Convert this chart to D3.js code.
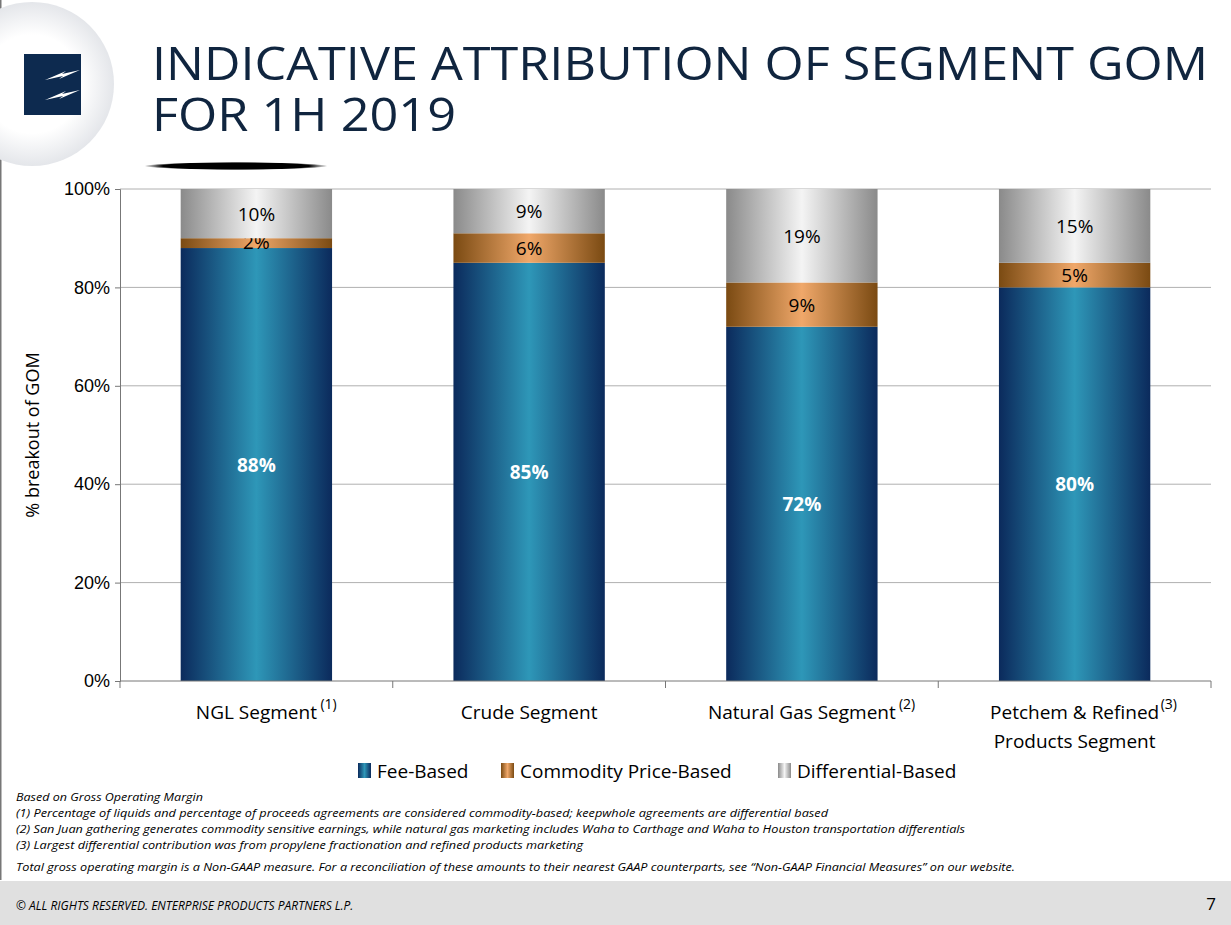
<!DOCTYPE html>
<html><head><meta charset="utf-8">
<script src="https://cdn.jsdelivr.net/npm/d3@7"></script>
<style>body{margin:0;background:#fff;}svg{display:block;font-family:"Open Sans",sans-serif;}</style>
</head><body>
<svg id="chart" width="1231" height="925"></svg>
<script>
// data
const categories = ["NGL Segment", "Crude Segment", "Natural Gas Segment", "Petchem & Refined|Products Segment"];
const notes = ["(1)", "", "(2)", "(3)"];
const feeBased = [88, 85, 72, 80];
const commodityBased = [2, 6, 9, 5];
const differentialBased = [10, 9, 19, 15];
const seriesNames = ["Fee-Based", "Commodity Price-Based", "Differential-Based"];
const yTicks = [0, 20, 40, 60, 80, 100];
const footnotes = [
  "Based on Gross Operating Margin",
  "(1)  Percentage of liquids and percentage of proceeds agreements are considered commodity-based; keepwhole agreements are differential based",
  "(2)  San Juan gathering generates commodity sensitive earnings, while natural gas marketing includes Waha to Carthage and Waha to Houston transportation differentials",
  "(3)  Largest differential contribution was from propylene fractionation and refined products marketing"
];
const footnoteWidths = [187, 812, 949, 567];

const svg = d3.select("#chart");
const defs = svg.append("defs");

// horizontal gradients like the office-style bars
function gradient(id, edge, mid) {
  const g = defs.append("linearGradient").attr("id", id).attr("x1", 0).attr("x2", 1).attr("y1", 0).attr("y2", 0);
  g.append("stop").attr("offset", "0%").attr("stop-color", edge);
  g.append("stop").attr("offset", "50%").attr("stop-color", mid);
  g.append("stop").attr("offset", "100%").attr("stop-color", edge);
}
gradient("gFee", "#0b2a5c", "#2e97b8");
gradient("gCom", "#7a4a12", "#f0a86a");
gradient("gDif", "#8a8a8a", "#f4f4f4");
const rg = defs.append("radialGradient").attr("id", "gCircle");
rg.append("stop").attr("offset", "60%").attr("stop-color", "#ffffff");
rg.append("stop").attr("offset", "100%").attr("stop-color", "#e4e6ea");
const sh = defs.append("radialGradient").attr("id", "gShadow");
sh.append("stop").attr("offset", "0%").attr("stop-color", "#000");
sh.append("stop").attr("offset", "80%").attr("stop-color", "#000");
sh.append("stop").attr("offset", "100%").attr("stop-color", "#fff");

// slide chrome
svg.append("rect").attr("x", 0).attr("y", 0).attr("width", 1.5).attr("height", 880).attr("fill", "#777");
svg.append("circle").attr("cx", 32).attr("cy", 84).attr("r", 82).attr("fill", "url(#gCircle)");
svg.append("rect").attr("x", 24).attr("y", 54).attr("width", 57).attr("height", 61).attr("fill", "#0d2a4f");
[[45, 80, 80, 70], [45, 100, 80, 90]].forEach(([x1, y1, x2, y2]) => {
  svg.append("path")
    .attr("d", `M${x1},${y1} L${x1 + 18},${y1 - 4} L${x1 + 14},${y1 - 1} L${x2},${y2} L${x2 - 18},${y2 + 4} L${x2 - 14},${y2 + 1} Z`)
    .attr("fill", "#fff");
});
svg.append("ellipse").attr("cx", 236).attr("cy", 166).attr("rx", 92).attr("ry", 4).attr("fill", "url(#gShadow)");

svg.append("text").attr("x", 152).attr("y", 80).attr("font-size", 46).attr("fill", "#10253f")
  .attr("textLength", 1056).attr("lengthAdjust", "spacingAndGlyphs").text("INDICATIVE ATTRIBUTION OF SEGMENT GOM");
svg.append("text").attr("x", 152).attr("y", 131).attr("font-size", 46).attr("fill", "#10253f")
  .attr("textLength", 304).attr("lengthAdjust", "spacingAndGlyphs").text("FOR 1H 2019");

// chart
const x = d3.scaleBand().domain(d3.range(categories.length)).range([120, 1211]).paddingInner(0.445).paddingOuter(0.2225);
const y = d3.scaleLinear().domain([0, 100]).range([681, 189]);

svg.append("g").selectAll("line").data(yTicks.filter(d => d > 0)).join("line")
  .attr("x1", 120).attr("x2", 1211).attr("y1", d => y(d)).attr("y2", d => y(d))
  .attr("stroke", "#b0b0b0").attr("stroke-width", 1);

const yAxis = svg.append("g").attr("transform", "translate(120,0)")
  .call(d3.axisLeft(y).tickValues(yTicks).tickFormat(d => d + "%").tickSize(5));
yAxis.select(".domain").attr("stroke", "#777");
yAxis.selectAll(".tick line").attr("stroke", "#777");
yAxis.selectAll("text").attr("font-size", 18).attr("fill", "#000").attr("dx", -2);

svg.append("text").attr("transform", "translate(39,435) rotate(-90)").attr("text-anchor", "middle")
  .attr("font-size", 18).text("% breakout of GOM");

const stackData = categories.map((c, i) => ({ i, fee: feeBased[i], com: commodityBased[i], dif: differentialBased[i] }));
const stacks = d3.stack().keys(["fee", "com", "dif"])(stackData);
const fills = ["url(#gFee)", "url(#gCom)", "url(#gDif)"];
stacks.forEach((s, k) => {
  svg.append("g").selectAll("rect").data(s).join("rect")
    .attr("x", d => x(d.data.i)).attr("width", x.bandwidth())
    .attr("y", d => y(d[1])).attr("height", d => y(d[0]) - y(d[1]))
    .attr("fill", fills[k]);
  svg.append("g").selectAll("text").data(s).join("text")
    .attr("x", d => x(d.data.i) + x.bandwidth() / 2)
    .attr("y", d => k === 1 && d.data.com < 3 ? y(d[1]) + 11 : (y(d[0]) + y(d[1])) / 2 + 7)
    .attr("text-anchor", "middle")
    .attr("font-size", 19)
    .attr("font-weight", k === 0 ? "bold" : "normal")
    .attr("fill", k === 0 ? "#fff" : "#000")
    .text(d => (d[1] - d[0]) + "%");
});

// x axis
svg.append("line").attr("x1", 120).attr("x2", 1211).attr("y1", 681).attr("y2", 681).attr("stroke", "#777");
d3.range(categories.length + 1).forEach(i => {
  const xx = 120 + i * (1091 / categories.length);
  svg.append("line").attr("x1", xx).attr("x2", xx).attr("y1", 681).attr("y2", 688).attr("stroke", "#777");
});
categories.forEach((c, i) => {
  const cx = x(i) + x.bandwidth() / 2;
  const lines = c.split("|");
  lines.forEach((l, j) => {
    svg.append("text").attr("x", cx).attr("y", 719 + j * 29).attr("text-anchor", "middle")
      .attr("font-size", 19).text(l);
  });
  if (notes[i]) {
    const w = { 0: 64, 2: 97, 3: 86 }[i];
    svg.append("text").attr("x", cx + w).attr("y", 709).attr("font-size", 14).text(notes[i]);
  }
});

// legend
const legendX = [358, 501, 778];
seriesNames.forEach((n, k) => {
  svg.append("rect").attr("x", legendX[k]).attr("y", 763).attr("width", 13).attr("height", 15).attr("fill", fills[k]);
  svg.append("text").attr("x", legendX[k] + 19).attr("y", 778).attr("font-size", 19).text(n);
});

// footnotes
footnotes.forEach((t, i) => {
  svg.append("text").attr("x", 16).attr("y", 801 + i * 16).attr("font-size", 11).attr("font-style", "italic")
    .attr("textLength", footnoteWidths[i]).attr("lengthAdjust", "spacingAndGlyphs").text(t);
});
svg.append("text").attr("x", 16).attr("y", 871).attr("font-size", 11).attr("font-style", "italic")
  .attr("textLength", 999).attr("lengthAdjust", "spacingAndGlyphs")
  .text("Total gross operating margin is a Non-GAAP measure. For a reconciliation of these amounts to their nearest GAAP counterparts, see \u201cNon-GAAP Financial Measures\u201d on our website.");

svg.append("rect").attr("x", 0).attr("y", 881).attr("width", 1231).attr("height", 44).attr("fill", "#e0e0e0");
svg.append("text").attr("x", 16).attr("y", 910).attr("font-size", 12).attr("font-style", "italic")
  .text("\u00a9 ALL RIGHTS RESERVED. ENTERPRISE PRODUCTS PARTNERS L.P.");
svg.append("text").attr("x", 1216).attr("y", 910).attr("text-anchor", "end").attr("font-size", 17).text("7");
</script>
</body></html>
